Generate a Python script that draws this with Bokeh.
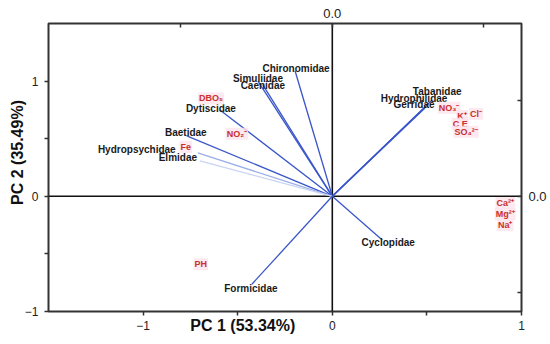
from bokeh.plotting import figure
from bokeh.models import (Range1d, LinearAxis, FixedTicker, Span, Label,
                          ColumnDataSource, CustomJSTickFormatter)
from bokeh.core.properties import value
from bokeh.embed import file_html
from bokeh.resources import INLINE

# ---- data ----
species = ["Chironomidae", "Simuliidae", "Caenidae", "Dytiscidae", "Baetidae",
           "Hydropsychidae", "Elmidae", "Tabanidae", "Hydrophilidae", "Gerridae",
           "Cyclopidae", "Formicidae"]
species_pc1 = [-0.197, -0.393, -0.367, -0.594, -0.769, -0.711, -0.70,
               0.528, 0.506, 0.49, 0.264, -0.425]
species_pc2 = [1.09, 1.00, 0.968, 0.75, 0.524, 0.376, 0.307,
               0.837, 0.80, 0.767, -0.38, -0.763]

env_vars = ["DBO₅", "NO₂⁻", "Fe", "PH", "NO₃⁻", "K⁺", "Cl⁻", "C E", "SO₄²⁻",
            "Ca²⁺", "Mg²⁺", "Na⁺"]
env_pc1 = [-0.641, -0.504, -0.774, -0.695, 0.617, 0.686, 0.760, 0.676, 0.707,
           0.914, 0.914, 0.914]
env_pc2 = [0.849, 0.543, 0.429, -0.589, 0.768, 0.698, 0.716, 0.629, 0.56,
           -0.058, -0.154, -0.25]

x_ticks = [-1, -0.5, 0, 0.5, 1]
y_ticks = [-1, -0.5, 0, 0.5, 1]
tick_labels = {-1: "−1", -0.5: "", 0: "0", 0.5: "", 1: "1"}
x_title = "PC 1 (53.34%)"
y_title = "PC 2 (35.49%)"

# ---- styles ----
species_colors = ["#3a56c9"] * 5 + ["#9aaee8", "#c9d3f3"] + ["#3a56c9"] * 5
label_dx = [1, 0, 0, -9, -1, -61, -22, 5, -14, -11, 6, -1]
label_dy = [-2, -3, 1, -1, -3, -3, -3, -8, -6, -3, 2, 4]

p = figure(width=550, height=344, x_range=Range1d(-1.5, 1.0), y_range=Range1d(-1.0, 1.5),
           output_backend="svg", toolbar_location=None,
           min_border_left=48, min_border_right=29, min_border_top=23, min_border_bottom=33)
p.grid.visible = False
p.outline_line_color = "#333333"
p.outline_line_width = 2
p.background_fill_color = "white"
p.border_fill_color = "white"

for ax, ticks in ((p.xaxis[0], x_ticks), (p.yaxis[0], y_ticks)):
    ax.ticker = FixedTicker(ticks=ticks)
    ax.major_label_overrides = tick_labels
    ax.axis_line_color = None
    ax.major_tick_line_color = "#333333"
    ax.major_tick_line_width = 1.5
    ax.major_tick_out = 4
    ax.major_tick_in = 0
    ax.minor_tick_line_color = None
    ax.major_label_text_font = "Liberation Sans"
    ax.major_label_text_font_size = "12px"
    ax.major_label_text_color = "#222222"
p.xaxis[0].major_label_standoff = 5
p.yaxis[0].major_label_standoff = 6

# x title on the bottom axis, lifted to the tick-label row and shifted left
xa = p.xaxis[0]
xa.axis_label = x_title + "\u00a0" * 19
xa.axis_label_standoff = -16
xa.axis_label_text_font = "Liberation Sans"
xa.axis_label_text_font_style = "bold"
xa.axis_label_text_font_size = "16px"
xa.axis_label_text_color = "#111111"

zero_only = CustomJSTickFormatter(code="return Math.abs(tick) < 1e-9 ? '0.0' : ''")
top_axis = LinearAxis(ticker=FixedTicker(ticks=[-0.8, 0, 0.8]), formatter=zero_only,
                      axis_line_color=None, major_tick_in=4, major_tick_out=0,
                      major_tick_line_color="#333333", major_tick_line_width=1.5,
                      minor_tick_line_color=None, major_label_standoff=6,
                      major_label_text_font="Liberation Sans", major_label_text_font_size="13px",
                      major_label_text_color="#222222")
right_axis = LinearAxis(ticker=FixedTicker(ticks=[-0.835, 0, 0.835]),
                        formatter=CustomJSTickFormatter(code="return Math.abs(tick) < 1e-9 ? '0.0' : ''"),
                        axis_line_color=None, major_tick_in=4, major_tick_out=0,
                        major_tick_line_color="#333333", major_tick_line_width=1.5,
                        minor_tick_line_color=None, major_label_standoff=7,
                        major_label_text_font="Liberation Sans", major_label_text_font_size="13px",
                        major_label_text_color="#222222")
p.add_layout(top_axis, "above")
p.add_layout(right_axis, "right")

p.add_layout(Span(location=0, dimension="height", line_color="#111111", line_width=1.6, level="underlay"))
p.add_layout(Span(location=0, dimension="width", line_color="#111111", line_width=1.6, level="underlay"))

src = ColumnDataSource(dict(name=species, pc1=species_pc1, pc2=species_pc2,
                            color=species_colors, dx=label_dx, dy=label_dy))
p.segment(x0=0, y0=0, x1="pc1", y1="pc2", source=src, line_color="color", line_width=1.3)
p.text(x="pc1", y="pc2", text="name", x_offset="dx", y_offset="dy", source=src,
       text_align="center", text_baseline="middle", text_font=value("Liberation Sans"),
       text_font_style="bold", text_font_size="10px", text_color="#1a1a1a")

esrc = ColumnDataSource(dict(name=env_vars, pc1=env_pc1, pc2=env_pc2))
p.text(x="pc1", y="pc2", text="name", source=esrc,
       text_align="center", text_baseline="middle", text_font=value("Liberation Sans"),
       text_font_style="bold", text_font_size="9px", text_color="#c9302c",
       background_fill_color="#fde4ec", background_fill_alpha=0.8, padding=1)

# y title in the left side panel
p.add_layout(Label(x=13, y=159, x_units="screen", y_units="screen", text=y_title,
                   angle=1.5708, text_align="center", text_baseline="middle",
                   text_font="Liberation Sans", text_font_style="bold",
                   text_font_size="16px", text_color="#111111"), "left")

open("out.html", "w").write(file_html(p, INLINE))
